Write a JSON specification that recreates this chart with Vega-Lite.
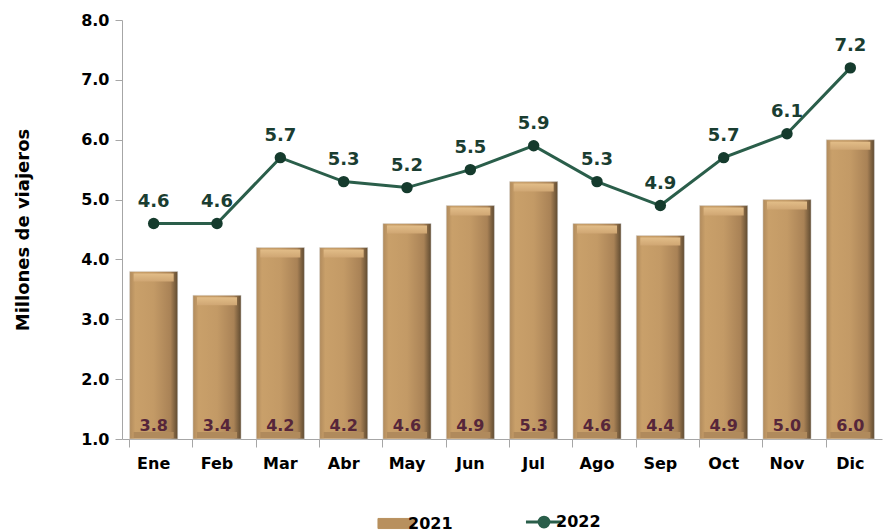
{
  "$schema": "https://vega.github.io/schema/vega-lite/v6.json",
  "width": 760,
  "height": 419,
  "autosize": {"type": "none"},
  "padding": {"left": 122, "top": 20, "right": 5, "bottom": 92},
  "background": "white",
  "config": {
    "view": {"stroke": null},
    "font": "DejaVu Sans",
    "axis": {"labelFont": "DejaVu Sans", "titleFont": "DejaVu Sans"},
    "legend": {"labelFont": "DejaVu Sans"}
  },
  "data": {
    "values": [
      {"mes": "Ene", "serie": "2021", "valor": 3.8},
      {"mes": "Feb", "serie": "2021", "valor": 3.4},
      {"mes": "Mar", "serie": "2021", "valor": 4.2},
      {"mes": "Abr", "serie": "2021", "valor": 4.2},
      {"mes": "May", "serie": "2021", "valor": 4.6},
      {"mes": "Jun", "serie": "2021", "valor": 4.9},
      {"mes": "Jul", "serie": "2021", "valor": 5.3},
      {"mes": "Ago", "serie": "2021", "valor": 4.6},
      {"mes": "Sep", "serie": "2021", "valor": 4.4},
      {"mes": "Oct", "serie": "2021", "valor": 4.9},
      {"mes": "Nov", "serie": "2021", "valor": 5.0},
      {"mes": "Dic", "serie": "2021", "valor": 6.0},
      {"mes": "Ene", "serie": "2022", "valor": 4.6},
      {"mes": "Feb", "serie": "2022", "valor": 4.6},
      {"mes": "Mar", "serie": "2022", "valor": 5.7},
      {"mes": "Abr", "serie": "2022", "valor": 5.3},
      {"mes": "May", "serie": "2022", "valor": 5.2},
      {"mes": "Jun", "serie": "2022", "valor": 5.5},
      {"mes": "Jul", "serie": "2022", "valor": 5.9},
      {"mes": "Ago", "serie": "2022", "valor": 5.3},
      {"mes": "Sep", "serie": "2022", "valor": 4.9},
      {"mes": "Oct", "serie": "2022", "valor": 5.7},
      {"mes": "Nov", "serie": "2022", "valor": 6.1},
      {"mes": "Dic", "serie": "2022", "valor": 7.2}
    ]
  },
  "encoding": {
    "x": {
      "field": "mes",
      "type": "nominal",
      "sort": null,
      "scale": {"paddingInner": 0.24, "paddingOuter": 0.12},
      "axis": {
        "title": null,
        "labelAngle": 0,
        "labelFontSize": 16,
        "labelFontWeight": "bold",
        "labelColor": "#000000",
        "labelPadding": 8,
        "domainColor": "#a6a6a6",
        "tickColor": "#a6a6a6",
        "tickSize": 8,
        "bandPosition": 0
      }
    }
  },
  "layer": [
    {
      "transform": [{"filter": "datum.serie == '2021'"}],
      "mark": {
        "type": "bar",
        "fill": {
          "gradient": "linear",
          "x1": 0, "y1": 0, "x2": 1, "y2": 0,
          "stops": [
            {"offset": 0, "color": "#b08a5c"},
            {"offset": 0.12, "color": "#c9a06a"},
            {"offset": 0.5, "color": "#c39a66"},
            {"offset": 0.85, "color": "#a98256"},
            {"offset": 1, "color": "#5f4a30"}
          ]
        },
        "stroke": "#d9d9d9",
        "strokeWidth": 0.5
      },
      "encoding": {
        "y": {
          "field": "valor",
          "type": "quantitative",
          "scale": {"domain": [1, 8], "zero": false, "nice": false},
          "axis": {
            "title": "Millones  de viajeros",
            "titleFontSize": 18,
            "titleFontWeight": "bold",
            "titleColor": "#000000",
            "titlePadding": 48,
            "values": [1, 2, 3, 4, 5, 6, 7, 8],
            "format": ".1f",
            "labelFontSize": 16,
            "labelFontWeight": "bold",
            "labelColor": "#000000",
            "labelPadding": 6,
            "grid": false,
            "domainColor": "#a6a6a6",
            "tickColor": "#a6a6a6",
            "tickSize": 7
          }
        },
        "y2": {"datum": 1}
      }
    },
    {
      "transform": [{"filter": "datum.serie == '2021'"}],
      "mark": {
        "type": "tick",
        "thickness": 8,
        "size": 40,
        "yOffset": 6,
        "fill": {
          "gradient": "linear",
          "x1": 0, "y1": 0, "x2": 0, "y2": 1,
          "stops": [
            {"offset": 0, "color": "#e2bd88"},
            {"offset": 1, "color": "#cfa673"}
          ]
        },
        "opacity": 1
      },
      "encoding": {
        "y": {"field": "valor", "type": "quantitative"}
      }
    },
    {
      "transform": [{"filter": "datum.serie == '2021'"}],
      "mark": {
        "type": "tick",
        "thickness": 6,
        "size": 40,
        "yOffset": -4,
        "color": "#b08a5c",
        "opacity": 1
      },
      "encoding": {
        "y": {"datum": 1}
      }
    },
    {
      "transform": [{"filter": "datum.serie == '2021'"}],
      "mark": {
        "type": "text",
        "fontSize": 16,
        "fontWeight": "bold",
        "color": "#56263a",
        "baseline": "alphabetic",
        "dy": -8
      },
      "encoding": {
        "y": {"datum": 1},
        "text": {"field": "valor", "type": "quantitative", "format": ".1f"}
      }
    },
    {
      "transform": [{"filter": "datum.serie == '2022'"}],
      "mark": {
        "type": "line",
        "strokeWidth": 3,
        "point": {"size": 130, "filled": true, "fill": "#153b2d", "opacity": 1}
      },
      "encoding": {
        "y": {"field": "valor", "type": "quantitative"},
        "color": {
          "field": "serie",
          "type": "nominal",
          "scale": {"domain": ["2021", "2022"], "range": ["#b8905e", "#2a5e4a"]},
          "legend": {
            "title": null,
            "orient": "none",
            "legendX": 266,
            "legendY": 494,
            "direction": "horizontal",
            "labelFontSize": 16,
            "labelFontWeight": "bold",
            "labelColor": "#000000",
            "symbolSize": 1300,
            "symbolStrokeWidth": 3,
            "columnPadding": 66,
            "labelOffset": 4,
            "encode": {
              "symbols": {
                "update": {
                  "shape": {"signal": "datum.value == '2021' ? 'M-1,-0.28H1V0.28H-1Z' : 'M-1,0L1,0M-0.27,0A0.27,0.27 0 1,0 0.27,0A0.27,0.27 0 1,0 -0.27,0Z'"},
                  "fill": {"signal": "datum.value == '2021' ? '#a98256' : '#153b2d'"},
                  "stroke": {"signal": "datum.value == '2021' ? '#7a5e3c' : '#2a5e4a'"},
                  "strokeWidth": {"signal": "datum.value == '2021' ? 1 : 3"},
                  "opacity": {"value": 1}
                }
              }
            }
          }
        }
      }
    },
    {
      "transform": [{"filter": "datum.serie == '2022'"}],
      "mark": {
        "type": "text",
        "fontSize": 18,
        "fontWeight": "bold",
        "color": "#1a3d31",
        "dy": -22
      },
      "encoding": {
        "y": {"field": "valor", "type": "quantitative"},
        "text": {"field": "valor", "type": "quantitative", "format": ".1f"}
      }
    }
  ]
}
